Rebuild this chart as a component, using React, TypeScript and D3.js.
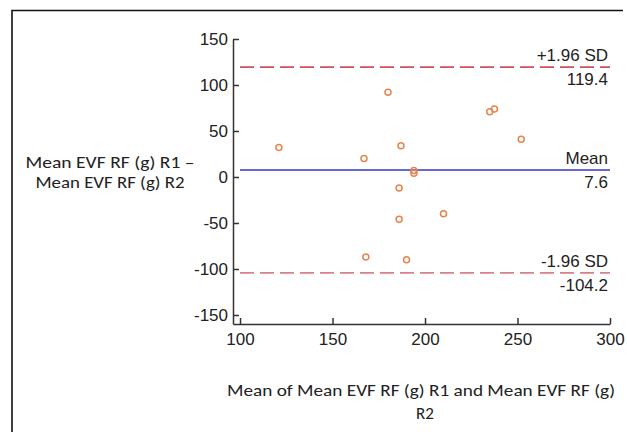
import React, { useRef, useEffect } from 'react';
import * as d3 from 'd3';

// mean of the two readings (x) and their difference (y)
const meanValues = [121, 167, 180, 187, 194, 194, 186, 186, 210, 168, 190, 235, 237.5, 252];
const diffValues = [32, 20, 92, 34, 7, 4, -12, -46, -40, -87, -90, 71, 74, 41];

const xTicks = [100, 150, 200, 250, 300];
const yTicks = [-150, -100, -50, 0, 50, 100, 150];

const refLines = [
  { value: 119.4, label: '+1.96 SD', text: '119.4', color: '#d2505c', dashed: true },
  { value: 7.6, label: 'Mean', text: '7.6', color: '#3434c8', dashed: false },
  { value: -104.2, label: '-1.96 SD', text: '-104.2', color: '#d8808a', dashed: true },
];

const width = 627;
const height = 432;

const App: React.FC = () => {
  const d3Container = useRef(null);

  useEffect(() => {
    if (!d3Container.current) return;
    const svg = d3.select(d3Container.current);

    const x = d3.scaleLinear().domain([96.2, 300]).range([233, 610]);
    const y = d3.scaleLinear().domain([-159.8, 150]).range([324, 39]);

    const tickFont = '"Liberation Sans", Arial, sans-serif';
    const plain = (d: any) => String(d); // keep the plain hyphen minus

    svg
      .select('.x-axis')
      .attr('transform', 'translate(0,' + y(-159.8) + ')')
      .call(
        d3.axisBottom(x).tickValues(xTicks).tickFormat(plain).tickSize(-6).tickSizeOuter(0).tickPadding(9)
      )
      .call((g: any) => {
        g.selectAll('path, line').attr('stroke', '#333').attr('stroke-width', 1.5);
        g.selectAll('text').attr('fill', '#222').style('font-size', '17px').style('font-family', tickFont);
      });

    svg
      .select('.y-axis')
      .attr('transform', 'translate(' + x(96.2) + ',0)')
      .call(
        d3.axisLeft(y).tickValues(yTicks).tickFormat(plain).tickSize(-6).tickSizeOuter(0).tickPadding(5)
      )
      .call((g: any) => {
        g.selectAll('path, line').attr('stroke', '#333').attr('stroke-width', 1.5);
        g.selectAll('text').attr('fill', '#222').style('font-size', '17px').style('font-family', tickFont);
      });

    const lines = svg.select('.ref-lines');
    lines
      .selectAll('line')
      .data(refLines)
      .join('line')
      .attr('x1', x(100))
      .attr('x2', x(300))
      .attr('y1', (d: any) => y(d.value))
      .attr('y2', (d: any) => y(d.value))
      .attr('stroke', (d: any) => d.color)
      .attr('stroke-width', 1.6)
      .attr('stroke-dasharray', (d: any) => (d.dashed ? '14 6' : null));

    lines
      .selectAll('text.lbl')
      .data(refLines)
      .join('text')
      .attr('class', 'lbl')
      .attr('x', x(300) - 2)
      .attr('y', (d: any) => y(d.value) - 6)
      .attr('text-anchor', 'end')
      .attr('fill', '#222')
      .style('font-size', '17px')
      .style('font-family', tickFont)
      .text((d: any) => d.label);

    lines
      .selectAll('text.val')
      .data(refLines)
      .join('text')
      .attr('class', 'val')
      .attr('x', x(300) - 2)
      .attr('y', (d: any) => y(d.value) + 18)
      .attr('text-anchor', 'end')
      .attr('fill', '#222')
      .style('font-size', '17px')
      .style('font-family', tickFont)
      .text((d: any) => d.text);

    svg
      .select('.points')
      .selectAll('circle')
      .data(meanValues.map((m, i) => ({ m, d: diffValues[i] })))
      .join('circle')
      .attr('cx', (p: any) => x(p.m))
      .attr('cy', (p: any) => y(p.d))
      .attr('r', 3)
      .attr('fill', 'none')
      .attr('stroke', '#e8844c')
      .attr('stroke-width', 1.5);
  }, []);

  const titleFont = 'Carlito, Lato, "Open Sans", sans-serif';

  return (
    <svg
      ref={d3Container}
      width={width}
      height={height}
      style={{ position: 'absolute', left: 0, top: 0, background: '#fff' }}
    >
      <path d="M12,432 V10.5 H623" fill="none" stroke="#111" strokeWidth={1.6} />
      <g className="ref-lines" />
      <g className="points" />
      <g className="x-axis" />
      <g className="y-axis" />
      <g fill="#222" style={{ fontFamily: titleFont, fontSize: '17px' }}>
        <text x={110} y={168} textAnchor="middle" textLength={169} lengthAdjust="spacingAndGlyphs">
          Mean EVF RF (g) R1 –
        </text>
        <text x={110} y={188} textAnchor="middle" textLength={149} lengthAdjust="spacingAndGlyphs">
          Mean EVF RF (g) R2
        </text>
        <text x={421} y={396} textAnchor="middle" textLength={388} lengthAdjust="spacingAndGlyphs">
          Mean of Mean EVF RF (g) R1 and Mean EVF RF (g)
        </text>
        <text x={425} y={419} textAnchor="middle">
          R2
        </text>
      </g>
    </svg>
  );
};

export default App;
